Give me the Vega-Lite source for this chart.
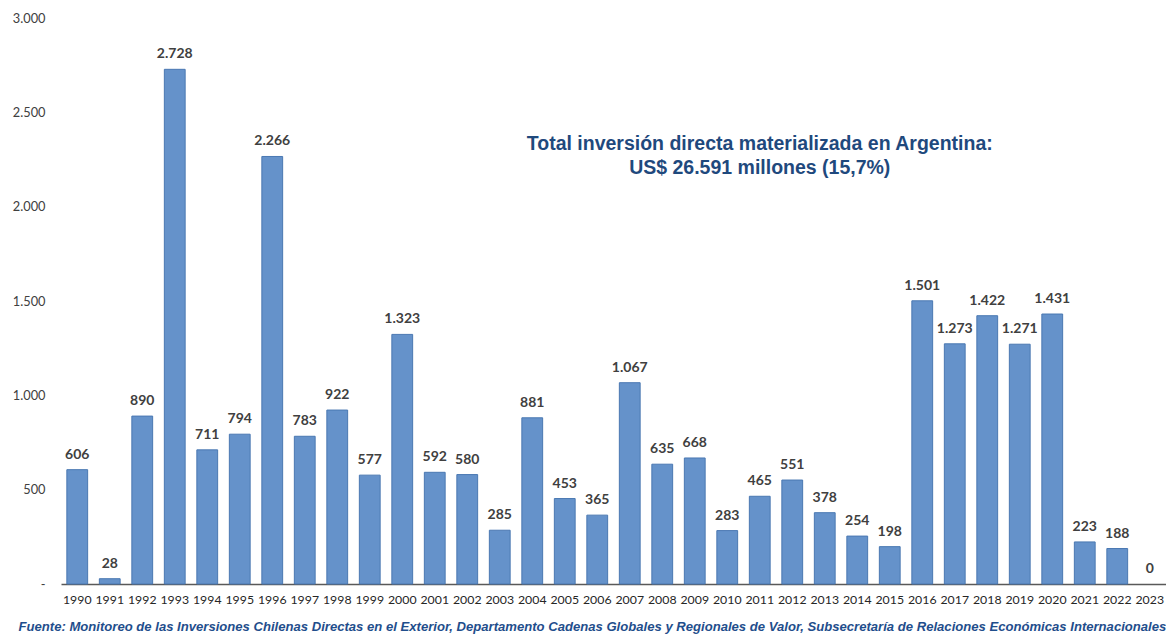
{
  "$schema": "https://vega.github.io/schema/vega-lite/v6.json",
  "width": 1105,
  "height": 566,
  "autosize": {"type": "none"},
  "padding": {"left": 61, "top": 18, "right": 0, "bottom": 50},
  "background": "white",
  "config": {"view": {"stroke": null},
    "locale": {"number": {"decimal": ",", "thousands": ".", "grouping": [3], "currency": ["$", ""]}}},
  "data": {"values": [
    {"year": "1990", "value": 606}, {"year": "1991", "value": 28}, {"year": "1992", "value": 890},
    {"year": "1993", "value": 2728}, {"year": "1994", "value": 711}, {"year": "1995", "value": 794},
    {"year": "1996", "value": 2266}, {"year": "1997", "value": 783}, {"year": "1998", "value": 922},
    {"year": "1999", "value": 577}, {"year": "2000", "value": 1323}, {"year": "2001", "value": 592},
    {"year": "2002", "value": 580}, {"year": "2003", "value": 285}, {"year": "2004", "value": 881},
    {"year": "2005", "value": 453}, {"year": "2006", "value": 365}, {"year": "2007", "value": 1067},
    {"year": "2008", "value": 635}, {"year": "2009", "value": 668}, {"year": "2010", "value": 283},
    {"year": "2011", "value": 465}, {"year": "2012", "value": 551}, {"year": "2013", "value": 378},
    {"year": "2014", "value": 254}, {"year": "2015", "value": 198}, {"year": "2016", "value": 1501},
    {"year": "2017", "value": 1273}, {"year": "2018", "value": 1422}, {"year": "2019", "value": 1271},
    {"year": "2020", "value": 1431}, {"year": "2021", "value": 223}, {"year": "2022", "value": 188},
    {"year": "2023", "value": 0}
  ]},
  "encoding": {
    "x": {"field": "year", "type": "ordinal", "scale": {"paddingInner": 0.36, "paddingOuter": 0.18},
      "axis": {"labelAngle": 0, "labelFont": "Lato", "labelFontSize": 12.3, "labelColor": "#262626",
        "labelPadding": 9, "ticks": false, "domainColor": "#595959", "domainWidth": 1.5,
        "title": "Fuente: Monitoreo de las Inversiones Chilenas Directas en el Exterior, Departamento Cadenas Globales y Regionales de Valor, Subsecretaría de Relaciones Económicas Internacionales",
        "titleFont": "Liberation Sans", "titleFontStyle": "italic", "titleFontWeight": "bold", "titleFontSize": 13.1,
        "titleColor": "#1F4E8C", "titleAnchor": "start", "titleAlign": "left", "titleBaseline": "bottom", "titleX": -43, "titleY": 49}},
    "y": {"field": "value", "type": "quantitative", "scale": {"domain": [0, 3000], "nice": false},
      "axis": {"values": [0, 500, 1000, 1500, 2000, 2500, 3000], "grid": false, "domain": false, "ticks": false,
        "format": ",.0f",
        "labelExpr": "datum.value == 0 ? '-' : datum.label",
        "labelFont": "Lato", "labelFontSize": 12.8, "labelColor": "#404040", "labelPadding": 16, "title": null}}
  },
  "layer": [
    {"mark": {"type": "bar", "color": "#6592CA", "stroke": "#4A78B2", "strokeWidth": 1},
      "encoding": {"strokeOpacity": {"condition": {"test": "datum.value == 0", "value": 0}, "value": 1}}},
    {"mark": {"type": "text", "dy": -15, "font": "Lato", "fontWeight": "bold", "fontSize": 14, "color": "#404040"},
      "encoding": {"text": {"field": "value", "type": "quantitative", "format": ",.0f"}}},
    {"data": {"values": [{"year": "2011", "value": 2333, "label": "Total inversión directa materializada en Argentina:\nUS$ 26.591 millones (15,7%)"}]},
      "mark": {"type": "text", "lineBreak": "\n", "font": "Liberation Sans", "fontWeight": "bold", "fontSize": 19.5,
        "color": "#1F497D", "lineHeight": 24, "baseline": "middle", "align": "center"},
      "encoding": {"text": {"field": "label"}}}
  ]
}
